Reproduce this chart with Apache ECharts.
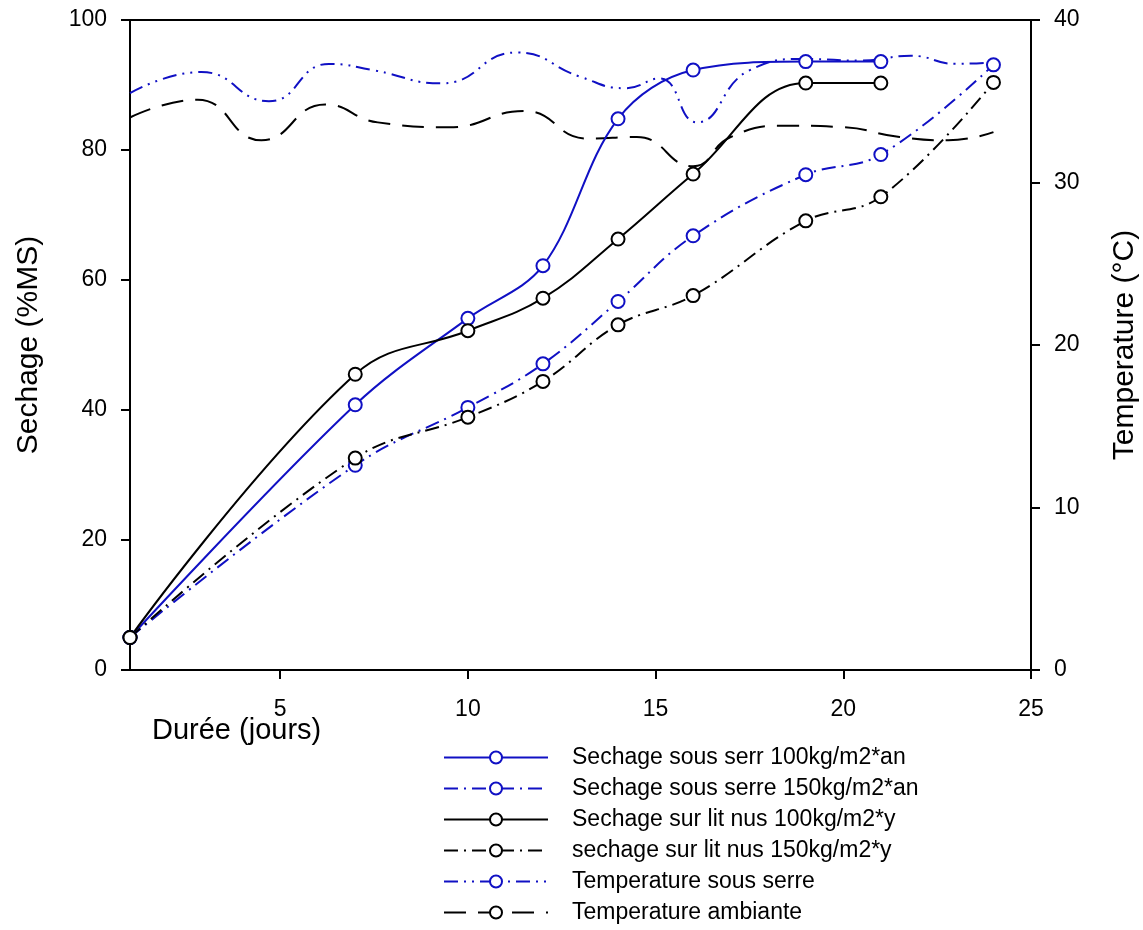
<!DOCTYPE html>
<html>
<head>
<meta charset="utf-8">
<script src="https://cdn.jsdelivr.net/npm/echarts@6/dist/echarts.min.js"></script>
<style>
html,body{margin:0;padding:0;background:#fff;}
#chart{width:1143px;height:930px;}
</style>
</head>
<body>
<div id="chart"></div>
<script>
// ---- data ----
const days = [1, 7, 10, 12, 14, 16, 19, 21, 24];
const serre100 = [5, 40.8, 54.1, 62.2, 84.8, 92.3, 93.6, 93.6];
const serre150 = [5, 31.5, 40.4, 47.1, 56.7, 66.8, 76.2, 79.3, 93.1];
const lit100 = [5, 45.5, 52.2, 57.2, 66.3, 76.3, 90.3, 90.3];
const lit150 = [5, 32.6, 38.9, 44.4, 53.1, 57.6, 69.1, 72.8, 90.4];

const tempSerreDays = [1, 2.9, 4.7, 6.3, 7.5, 9.3, 11.3, 13, 14.2, 15.1, 16.1, 17.5, 19, 20.5, 21.8, 23, 24];
const tempSerre = [35.5, 36.8, 35.0, 37.3, 36.9, 36.1, 38.0, 36.5, 35.8, 36.4, 33.7, 36.9, 37.6, 37.5, 37.8, 37.3, 37.4];
const tempAmbDays = [1, 2.8, 4.5, 6.2, 7.6, 9.5, 11.5, 13.2, 14.5, 16, 17, 18.5, 20, 21.5, 22.8, 24];
const tempAmb = [34.0, 35.1, 32.6, 34.8, 33.7, 33.4, 34.4, 32.7, 32.8, 31.0, 32.8, 33.5, 33.4, 32.8, 32.6, 33.1];

const seriesNames = [
  'Sechage sous serr 100kg/m2*an',
  'Sechage sous serre 150kg/m2*an',
  'Sechage sur lit nus 100kg/m2*y',
  'sechage sur lit nus 150kg/m2*y',
  'Temperature sous serre',
  'Temperature ambiante'
];
const xLabel = 'Durée (jours)';
const yLeftLabel = 'Sechage (%MS)';
const yRightLabel = 'Temperature (°C)';

// ---- helpers ----
const pair = (xs, ys) => ys.map((v, i) => [xs[i], v]);
const BLUE = '#1010c4';
const BLACK = '#000000';
const FONT = 'Liberation Sans, Arial, sans-serif';
const dashDot = [14, 6, 2, 6];
const dashDotDot = [14, 6, 2, 6, 2, 6];
const longDash = [22, 12];

function mk(name, data, color, dash, yIdx, showSym, smooth) {
  return {
    name: name,
    type: 'line',
    data: data,
    yAxisIndex: yIdx,
    smooth: smooth,
    symbol: 'emptyCircle',
    symbolSize: 13,
    showSymbol: showSym,
    lineStyle: { color: color, width: 2, type: dash },
    itemStyle: { color: color, borderColor: color, borderWidth: 2 },
    z: showSym ? 3 : 2,
    animation: false
  };
}

const chart = echarts.init(document.getElementById('chart'), null, { renderer: 'canvas' });
chart.setOption({
  backgroundColor: '#fff',
  animation: false,
  grid: {
    left: 130, right: 112, top: 20, bottom: 260,
    outerBoundsMode: 'none', containLabel: false,
    show: true, borderColor: '#000', borderWidth: 2, backgroundColor: 'transparent'
  },
  legend: {
    orient: 'vertical',
    left: 443,
    top: 746,
    height: 184,
    padding: 0,
    itemWidth: 104,
    itemHeight: 15,
    itemGap: 8,
    textStyle: { fontFamily: FONT, fontSize: 23, color: '#000', padding: [0, 0, 0, 19] },
    data: seriesNames
  },
  xAxis: {
    type: 'value',
    min: 1,
    max: 25,
    splitLine: { show: false },
    axisLine: { show: true, onZero: false, lineStyle: { color: '#000', width: 2 } },
    axisTick: { show: true, inside: false, length: 9, lineStyle: { color: '#000', width: 2 } },
    axisLabel: { showMinLabel: false, margin: 28, fontFamily: FONT, fontSize: 23, color: '#000' }
  },
  yAxis: [
    {
      type: 'value', min: 0, max: 100, interval: 20, position: 'left',
      name: yLeftLabel, nameLocation: 'middle', nameGap: 86, nameRotate: 90,
      nameTextStyle: { fontFamily: FONT, fontSize: 30, color: '#000' },
      splitLine: { show: false },
      axisLine: { show: true, onZero: false, lineStyle: { color: '#000', width: 2 } },
      axisTick: { show: true, inside: false, length: 9, lineStyle: { color: '#000', width: 2 } },
      axisLabel: { margin: 23, fontFamily: FONT, fontSize: 23, color: '#000' }
    },
    {
      type: 'value', min: 0, max: 40, interval: 10, position: 'right',
      name: yRightLabel, nameLocation: 'middle', nameGap: 79, nameRotate: 90,
      nameTextStyle: { fontFamily: FONT, fontSize: 30, color: '#000' },
      splitLine: { show: false },
      axisLine: { show: true, onZero: false, lineStyle: { color: '#000', width: 2 } },
      axisTick: { show: true, inside: false, length: 9, lineStyle: { color: '#000', width: 2 } },
      axisLabel: { margin: 23, fontFamily: FONT, fontSize: 23, color: '#000' }
    }
  ],
  graphic: [
    {
      type: 'text', left: 152, top: 716,
      style: { text: xLabel, font: '29px ' + FONT, fill: '#000' }
    }
  ],
  series: [
    mk(seriesNames[0], pair(days, serre100), BLUE, 'solid', 0, true, 0.35),
    mk(seriesNames[1], pair(days, serre150), BLUE, dashDot, 0, true, 0.4),
    mk(seriesNames[2], pair(days, lit100), BLACK, 'solid', 0, true, 0.4),
    mk(seriesNames[3], pair(days, lit150), BLACK, dashDot, 0, true, 0.4),
    mk(seriesNames[4], pair(tempSerreDays, tempSerre), BLUE, dashDotDot, 1, false, 0.5),
    mk(seriesNames[5], pair(tempAmbDays, tempAmb), BLACK, longDash, 1, false, 0.5)
  ]
});
</script>
</body>
</html>
